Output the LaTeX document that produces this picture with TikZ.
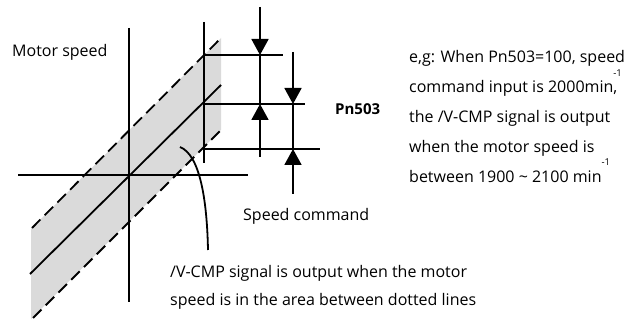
\documentclass[tikz,border=0pt]{standalone}
\usepackage{fontspec}
\setmainfont{Open Sans}
\usetikzlibrary{arrows.meta}
\definecolor{bandgray}{RGB}{218,218,218}
\begin{document}
\begin{tikzpicture}[x=1pt,y=-1pt,
  ln/.style={line width=1.8pt},
  dsh/.style={line width=1.8pt, dash pattern=on 12pt off 6pt},
  arr/.style={line width=1.8pt,-{Triangle[width=17pt,length=16pt]}},
  txt/.style={anchor=base west,inner sep=0pt,font=\fontsize{16}{18}\selectfont}]
\useasboundingbox (0,0) rectangle (624,320);
% band
\fill[bandgray] (31,229) -- (221,38) -- (221,130) -- (31,319) -- cycle;
% axes
\coordinate (vt) at (129,28);
\coordinate (vb) at (129,302);
\coordinate (hl) at (18,175);
\coordinate (hr) at (248,175);
\draw[ln] (vt) -- (vb);
\draw[ln] (hl) -- (hr);
% diagonal lines
\coordinate (ua) at (32,228);  \coordinate (ub) at (221,38);
\coordinate (ma) at (30,274);  \coordinate (mb) at (221,85);
\coordinate (la) at (33,318);  \coordinate (lb) at (221,130);
\draw[dsh] (ua) -- (ub);
\draw[ln] (ma) -- (mb);
\draw[dsh] (la) -- (lb);
% vertical reference line and horizontals
\coordinate (rt) at (204,22);
\coordinate (rb) at (204,163);
\draw[ln] (rt) -- (rb);
\coordinate (h1a) at (204,55);  \coordinate (h1b) at (283,55);
\coordinate (h2a) at (204,104); \coordinate (h2b) at (305,104);
\coordinate (h3a) at (204,149); \coordinate (h3b) at (320,149);
\draw[ln] (h1a) -- (h1b);
\draw[ln] (h2a) -- (h2b);
\draw[ln] (h3a) -- (h3b);
% arrows column 1
\coordinate (a1t) at (260,7);
\coordinate (a1u) at (260,55);
\coordinate (a1m) at (260,104);
\coordinate (a1b) at (260,157);
\draw[arr] (a1t) -- (a1u);
\draw[ln] (a1u) -- (a1m);
\draw[arr] (a1b) -- (a1m);
% arrows column 2
\coordinate (a2t) at (293,52);
\coordinate (a2u) at (293,104);
\coordinate (a2m) at (293,149);
\coordinate (a2b) at (293,194);
\draw[arr] (a2t) -- (a2u);
\draw[ln] (a2u) -- (a2m);
\draw[arr] (a2b) -- (a2m);
% pointer curve
\coordinate (cs) at (180,147);
\coordinate (ce) at (208,250);
\draw[ln] (cs) .. controls (200,155) and (207,200) .. (ce);
% texts
\node[txt] (motor) at (12,57) {Motor speed};
\node[txt] (cmd) at (243,221) {Speed command};
\node[txt,font=\fontsize{15}{18}\selectfont\bfseries] (pn) at (335,115) {Pn503};
\node[txt] (r1) at (409,63) {e,g: When Pn503=100, speed};
\node[txt] (r2) at (409,93) {command input is 2000min\rlap{\raisebox{16pt}{\fontsize{9.5}{10}\selectfont -1}},};
\node[txt] (r3) at (409,123) {the /V-CMP signal is output};
\node[txt] (r4) at (409,153) {when the motor speed is};
\node[txt] (r5) at (409,183) {between 1900 \textasciitilde{} 2100 min\raisebox{17pt}{\fontsize{9.5}{10}\selectfont -1}};
\node[txt] (b1) at (170,278) {/V-CMP signal is output when the motor};
\node[txt] (b2) at (170,306) {speed is in the area between dotted lines};
\end{tikzpicture}
\end{document}
